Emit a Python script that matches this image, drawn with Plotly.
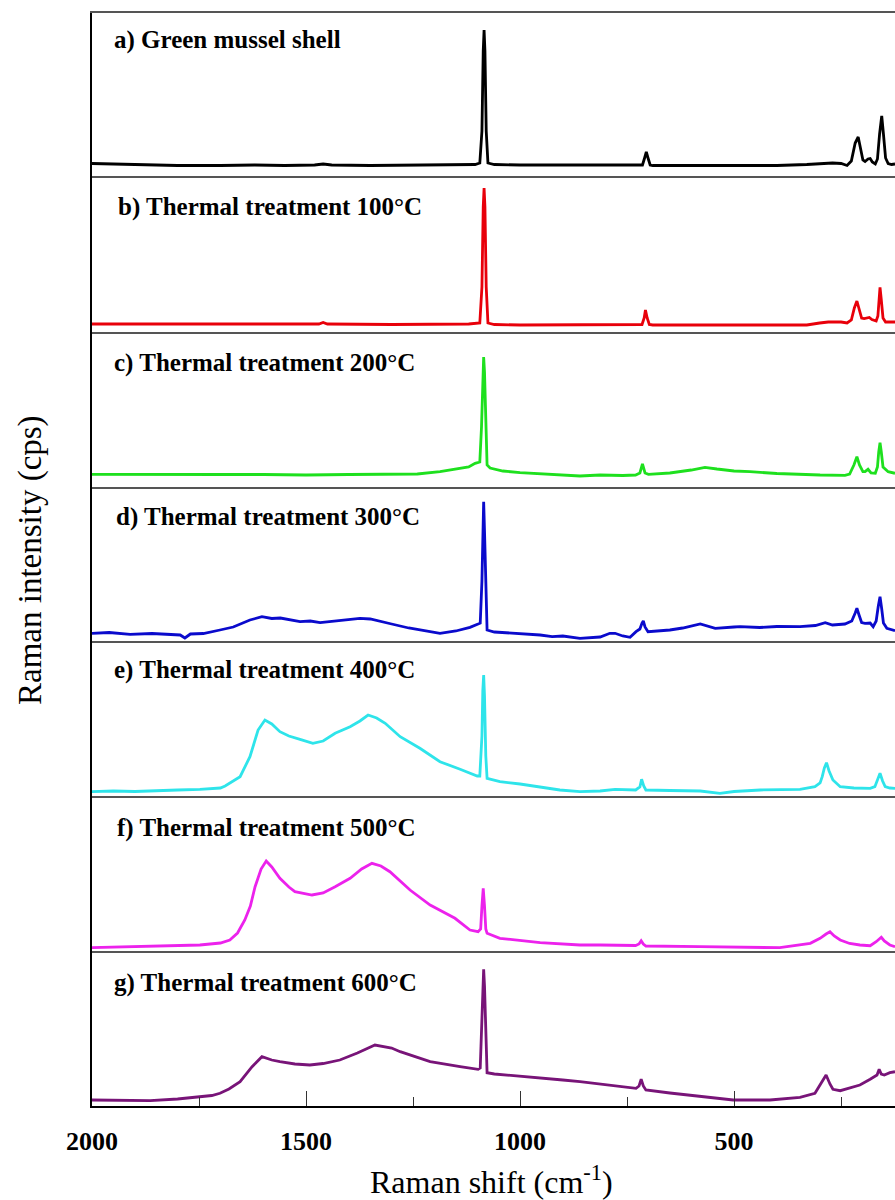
import plotly.graph_objects as go
from plotly.subplots import make_subplots

# ---------------- data (Raman shift cm-1, relative intensity) ----------------
A_X = [2000,1950,1880,1800,1700,1620,1550,1480,1460,1440,1350,1250,1150,1105,1094,1089,1086,1084,1082,1079,1075,1060,1000,900,800,730,714,709,705,701,696,690,600,500,400,330,300,270,250,236,226,217,210,205,199,194,187,182,177,170,165,160,155,151,146,140,132,124]
A_Y = [12.5,12,11,10.5,10.5,11,10.5,11,12,11,10.5,11,11.5,11.5,13,45,125,146,125,45,13,11.5,11,11,10.5,10.5,11,18,24,18,11,10.5,10.5,10.5,10.5,11.5,12.5,13,12.5,10.5,15,33,39,30,16,14.5,17,17.5,14,12,17,42,60,42,18,12.5,11.5,12]

B_X = [2000,1900,1800,1700,1600,1500,1470,1460,1450,1300,1200,1120,1094,1089,1086,1084,1082,1079,1075,1060,1000,900,800,715,710,707,703,698,690,600,500,400,330,300,280,250,236,226,219,213,208,202,196,190,184,178,168,164,161,159,156,152,146,136,124]
B_Y = [8,8,7.5,8,7.5,8,8,9.5,8,7.5,8,8,9,45,125,144,125,45,9,7.5,7,7,7,7.5,14,22,14,7.5,7,7,7,7,7,9,10,10,9,12,24,31,22,14,13.5,14,14.5,12.5,11,16,32,44.7,32,14,10,10,10]

C_X = [2000,1900,1800,1700,1600,1500,1400,1300,1240,1187,1150,1120,1105,1094,1090,1087,1085,1083,1080,1077,1070,1040,1000,950,900,860,813,760,730,720,714,708,700,650,600,568,540,500,463,400,299,241,230,220,213,207,199,194,187,180,170,165,162,159,156,152,140,124]
C_Y = [12.7,12.5,12,12.5,12.5,12,12.5,12.5,13,15.3,17.5,20,23.7,25,60,115,130,115,50,22,19,16,14.3,13,12,11,12,11.5,12,14,23,14,12.7,14,17,19.7,18,16,15.3,13.5,12,11.7,13,22,30.3,22,15.3,15.3,17.7,14,13.7,20,35,44.3,35,20,15.3,13.7]

D_X = [2000,1960,1911,1860,1794,1783,1770,1740,1701,1670,1631,1603,1580,1560,1514,1490,1467,1440,1400,1374,1350,1327,1300,1260,1234,1187,1150,1117,1098,1093,1089,1086,1085,1083,1080,1077,1060,1023,980,953,925,900,860,813,790,778,760,743,729,720,715,712,708,701,650,620,579,560,544,500,486,440,400,346,310,287,270,241,225,217,213,208,202,194,182,175,168,163,159,155,151,143,130,124]
D_Y = [7.7,8.5,6.7,7.5,6,3,7,7.5,11,14,21,24.3,22.5,23,19.3,20,18.3,19.5,21,22.7,22,20,17,13,11,7.7,10,13.7,17,18,60,125,139.3,110,40,11,9,8,7,6,4.3,5,2.7,4,7.7,7.7,5,3.7,9.3,12,18,20,14,9.3,11,13,17,15,12.7,14,14.3,13.5,14.5,14.3,15.5,18.3,16,17,20,28,32.7,26,18.5,17.7,18,14.3,20,35,44.3,32,18,12.7,11,10.3]

E_X = [2000,1950,1900,1850,1800,1748,1700,1689,1654,1631,1612,1596,1580,1561,1540,1514,1484,1460,1432,1397,1374,1355,1335,1315,1280,1234,1187,1140,1100,1094,1089,1087,1085,1083,1080,1077,1047,1000,950,907,860,813,778,730,720,716,711,706,650,579,533,500,439,346,311,299,294,289,284,278,269,260,252,220,182,171,166,159,153,147,136,124]
E_Y = [4.3,5,4.5,5.5,6,6.7,8,10,19.3,39.3,66,76,72,64.3,60,56.7,52.7,55,62.7,69.3,75,81,78,72.7,59.3,47.7,34.3,26.7,20,20,60,105,121,100,40,17.7,14.3,12,9,6,4.3,5,6.7,6,9,16.7,10,6,5.5,5,2.7,4.5,6,6.7,9.3,13,19.3,28,33.3,25,16,12,9.3,8,7.7,9.3,15,22.7,15,9.3,8,7.7]

F_X = [2000,1900,1800,1748,1700,1678,1660,1643,1630,1619,1605,1593,1580,1561,1540,1526,1486,1460,1432,1397,1370,1346,1325,1304,1257,1210,1152,1117,1098,1092,1089,1086,1083,1080,1077,1047,953,860,813,730,722,717,712,706,579,393,322,299,285,276,266,252,230,206,182,168,156,149,136,124]
F_Y = [3.3,4.5,5.5,6,8,11,18,31,45,64.3,82,90,84,72.7,64,59.3,56,58,64.3,72.7,82,87.7,85,79.3,61,46,32.7,21,19.3,22,45,62.7,45,22,17.7,12.7,8.3,6,6,5.5,7,10.3,7,5,4.3,3.3,7.7,12.7,17,19.3,15,11,7.5,6,5.3,9.3,13.7,10,6,4.3]

G_X = [2000,1950,1864,1800,1755,1720,1701,1680,1654,1626,1603,1580,1561,1526,1491,1460,1421,1380,1339,1300,1280,1210,1140,1098,1093,1090,1087,1085,1083,1080,1077,1060,1000,900,860,813,750,729,722,717,712,706,650,579,502,416,346,311,299,285,276,269,252,206,182,166,161,156,149,136,124]
G_Y = [6,5.5,5.3,7,9.3,10.5,12.7,17,24.3,39.3,49.3,46,44.3,42,41,42.5,46,53,61,58,54.3,44.3,39.3,36.7,38,70,120,136.7,120,70,33.3,32,30,26,24.3,22,19,17.7,20,26.7,20,16,13,10,6,6,8.7,12.7,21,31,22,16.7,15.3,21,26.7,31,36.7,32,31,33.3,34.3]

LABELS = ["a) Green mussel shell",
          "b) Thermal treatment 100°C",
          "c) Thermal treatment 200°C",
          "d) Thermal treatment 300°C",
          "e) Thermal treatment 400°C",
          "f) Thermal treatment 500°C",
          "g) Thermal treatment 600°C"]
COLORS = ["#000000", "#e8000a", "#1ee01e", "#0a0acc", "#2ee4ea", "#ec22ec", "#781478"]
SERIES = [(A_X, A_Y), (B_X, B_Y), (C_X, C_Y), (D_X, D_Y), (E_X, E_Y), (F_X, F_Y), (G_X, G_Y)]

TICK_VALS = [2000, 1500, 1000, 500]
TICK_TEXT = ["2000", "1500", "1000", "500"]
X_RANGE = [2000, 124]

# ---------------- layout geometry (page pixels) ----------------
W, H = 895, 1200
L, T, B = 92, 13, 1106
BOUNDS = [13, 176, 332, 487, 641, 796, 951, 1106]
LABEL_POS = [(112, 40), (116, 207), (112, 363), (114, 517), (112, 670), (115, 828), (112, 983)]
PH = B - T
PW = W - L

def py(y):
    return (B - y) / PH

def px(x):
    return (x - L) / PW

FONT = "Liberation Serif"

fig = make_subplots(rows=7, cols=1, shared_xaxes=True, vertical_spacing=0)

for i, ((xs, ys), col) in enumerate(zip(SERIES, COLORS)):
    fig.add_trace(go.Scatter(x=xs, y=ys, mode="lines",
                             line=dict(color=col, width=2.8),
                             showlegend=False, hoverinfo="skip"),
                  row=i + 1, col=1)
    top, bot = BOUNDS[i], BOUNDS[i + 1]
    yname = "yaxis" if i == 0 else f"yaxis{i+1}"
    xname = "xaxis" if i == 0 else f"xaxis{i+1}"
    fig.update_layout(**{
        yname: dict(domain=[py(bot), py(top)], range=[0, bot - top],
                    showticklabels=False, ticks="", showgrid=False, zeroline=False,
                    showline=True, linecolor="black", linewidth=2),
    })
    xa = dict(range=X_RANGE, showgrid=False, zeroline=False, showline=True,
              linecolor="#555555", linewidth=1.5, ticks="", showticklabels=False)
    if i == 0:
        xa["mirror"] = True
    if i == 6:
        xa.update(linecolor="black", linewidth=2, ticks="inside", ticklen=15,
                  tickwidth=1.3, tickcolor="#333333",
                  tickvals=TICK_VALS, ticktext=TICK_TEXT, showticklabels=True,
                  tickfont=dict(family=FONT, size=26, color="black", weight="bold"),
                  ticklabelstandoff=11,
                  minor=dict(ticks="inside", ticklen=9, tickwidth=1.2,
                             tickcolor="#333333", dtick=250, tick0=0))
    fig.update_layout(**{xname: xa})
    lx, ly = LABEL_POS[i]
    fig.add_annotation(text=f"<b>{LABELS[i]}</b>", xref="paper", yref="paper",
                       x=px(lx), y=py(ly), xanchor="left", yanchor="middle",
                       showarrow=False,
                       font=dict(family=FONT, size=25, color="black"))

fig.add_annotation(text="Raman intensity (cps)", xref="paper", yref="paper",
                   x=px(30), y=py(560), xanchor="center", yanchor="middle",
                   textangle=-90, showarrow=False,
                   font=dict(family=FONT, size=33, color="black"))
fig.add_annotation(text="Raman shift (cm<sup>-1</sup>)", xref="paper", yref="paper",
                   x=px(491), y=py(1180), xanchor="center", yanchor="middle",
                   showarrow=False,
                   font=dict(family=FONT, size=32, color="black"))

fig.update_layout(width=W, height=H,
                  margin=dict(l=L, r=0, t=T, b=H - B, pad=0),
                  plot_bgcolor="white", paper_bgcolor="white",
                  showlegend=False)

fig.write_html("out.html")
